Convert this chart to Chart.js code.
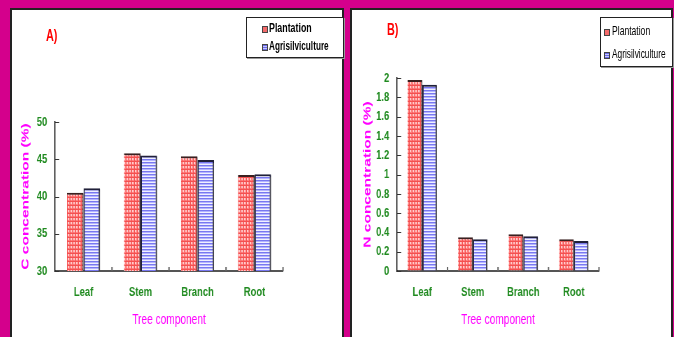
<!DOCTYPE html>
<html><head><meta charset="utf-8">
<script src="https://cdn.jsdelivr.net/npm/chart.js@4.4.0/dist/chart.umd.min.js"></script>
<style>
html,body{margin:0;padding:0;}
body{width:674px;height:337px;background:#d4008c;position:relative;overflow:hidden;font-family:"Liberation Sans",Arial,sans-serif;}
.panel{position:absolute;background:#fff;border:2px solid #222;border-bottom:none;box-sizing:border-box;}
#pA{left:10px;top:8px;width:334px;height:340px;}
#pB{left:350px;top:8px;width:323px;height:340px;}
.cw{position:absolute;transform:scaleX(0.7);transform-origin:0 0;}
#wA{left:11px;top:9px;}
#wB{left:353px;top:9px;}
.lbl{position:absolute;color:#ff0000;font-weight:bold;font-size:16px;transform:scaleX(0.68);transform-origin:0 0;}
.legend{position:absolute;background:#fff;border:1px solid #222;box-shadow:1px 1px 0 #999;box-sizing:border-box;}
.row{position:absolute;white-space:nowrap;color:#000;transform-origin:0 0;}
.sw{position:absolute;width:6px;height:7px;border:1px solid #444;box-sizing:border-box;}
.swR{background:#f46a6a;}
.swB{background:repeating-linear-gradient(#6a6ae8 0 1px,#c8c8ff 1px 2px);}
</style></head>
<body>
<div class="panel" id="pA"></div>
<div class="panel" id="pB"></div>
<div class="cw" id="wA"><canvas id="cA" width="474" height="328"></canvas></div>
<div class="cw" id="wB"><canvas id="cB" width="456" height="328"></canvas></div>
<div class="lbl" style="left:46px;top:27px;">A)</div>
<div class="lbl" style="left:387px;top:21px;">B)</div>
<div class="legend" style="left:246px;top:17px;width:98px;height:41px;">
  <div class="sw swR" style="left:15px;top:8px;"></div>
  <div class="row" style="left:22px;top:2px;font-weight:bold;font-size:13px;transform:scaleX(0.68);">Plantation</div>
  <div class="sw swB" style="left:15px;top:26px;"></div>
  <div class="row" style="left:22px;top:20px;font-weight:bold;font-size:13px;transform:scaleX(0.63);">Agrisilviculture</div>
</div>
<div class="legend" style="left:600px;top:17px;width:73px;height:50px;">
  <div class="sw swR" style="left:3px;top:11px;"></div>
  <div class="row" style="left:11px;top:5px;font-size:13px;transform:scaleX(0.66);">Plantation</div>
  <div class="sw swB" style="left:3px;top:34px;"></div>
  <div class="row" style="left:11px;top:28px;font-size:13px;transform:scaleX(0.64);">Agrisilviculture</div>
</div>
<script>
// ---- data ----
const categories = ["Leaf", "Stem", "Branch", "Root"];
const seriesNames = ["Plantation", "Agrisilviculture"];
const carbonPlantation = [40.5, 45.8, 45.4, 42.9];
const carbonAgrisilviculture = [41.1, 45.5, 44.9, 43.0];
const nitrogenPlantation = [1.98, 0.35, 0.38, 0.33];
const nitrogenAgrisilviculture = [1.93, 0.33, 0.36, 0.31];
const yTicksA = [30, 35, 40, 45, 50];
const yTicksB = [0, 0.2, 0.4, 0.6, 0.8, 1, 1.2, 1.4, 1.6, 1.8, 2];

const FONT = '"Liberation Sans",Arial,sans-serif';
const GREEN = '#1f8a1f';
const MAG = '#ff00ff';
const K = 0.7; // horizontal condensing applied to the canvas wrapper

function makePattern(kind, ctx){
  const c = document.createElement('canvas');
  const g = c.getContext('2d');
  if(kind === 'red'){
    c.width = 4; c.height = 4;
    g.fillStyle = '#ff8080'; g.fillRect(0,0,4,4);
    g.fillStyle = '#ffcccc'; g.fillRect(1,1,2,2);
    g.fillStyle = '#f45050'; g.fillRect(0,0,4,1); g.fillRect(0,0,1,4);
  } else {
    c.width = 4; c.height = 3;
    g.fillStyle = '#b4b4ff'; g.fillRect(0,0,4,3);
    g.fillStyle = '#7878f0'; g.fillRect(0,0,4,1);
    g.fillStyle = '#f0f0ff'; g.fillRect(0,2,4,1);
  }
  return ctx.createPattern(c, 'repeat');
}

const shadowPlugin = {
  id: 'barShadow',
  beforeDatasetDraw(chart){ const c = chart.ctx; c.save(); c.shadowColor='rgba(90,90,90,0.6)'; c.shadowOffsetX=3.5; c.shadowOffsetY=1; c.shadowBlur=0; },
  afterDatasetDraw(chart){ chart.ctx.restore(); }
};
const innerTicks = {
  id: 'innerTicks',
  afterDraw(chart){
    const c = chart.ctx, xs = chart.scales.x, ys = chart.scales.y, a = chart.chartArea;
    c.save(); c.strokeStyle = '#333'; c.lineWidth = 1;
    ys.ticks.forEach(t => { const y = Math.round(ys.getPixelForValue(t.value)) + 0.5; c.beginPath(); c.moveTo(a.left, y); c.lineTo(a.left + 6, y); c.stroke(); });
    c.strokeStyle = '#666'; c.lineWidth = 2;
    const n = xs.ticks.length, w = (a.right - a.left) / n;
    for(let i = 1; i <= n; i++){ const x = a.left + i*w; c.beginPath(); c.moveTo(x, a.bottom); c.lineTo(x, a.bottom - 4); c.stroke(); }
    c.restore();
  }
};

function fmt(v){ return String(Math.round(v * 10) / 10); }

function build(id, p, q, ticksArr, yTitle, min, max, padRight, padTop){
  const canvas = document.getElementById(id);
  const ctx = canvas.getContext('2d');
  new Chart(canvas, {
    type: 'bar',
    data: {
      labels: categories,
      datasets: [
        {label: seriesNames[0], data: p, backgroundColor: makePattern('red', ctx), borderColor: '#3a2020', borderWidth: {top:2, right:1.5, left:0, bottom:0}, borderSkipped: 'bottom'},
        {label: seriesNames[1], data: q, backgroundColor: makePattern('blue', ctx), borderColor: '#20203a', borderWidth: {top:2, right:2, left:2, bottom:0}, borderSkipped: 'bottom'}
      ]
    },
    options: {
      responsive: false, animation: false, devicePixelRatio: 1,
      layout: {padding: {top: padTop, right: padRight, left: 0, bottom: 0}},
      categoryPercentage: 0.58, barPercentage: 1,
      plugins: {legend: {display: false}, tooltip: {enabled: false}},
      scales: {
        x: {
          grid: {display: true, drawOnChartArea: false, drawTicks: false},
          border: {display: true, color: '#555', width: 2},
          ticks: {color: GREEN, font: {family: FONT, size: 13.5, weight: 'bold'}, padding: 13, maxRotation: 0, minRotation: 0, autoSkip: false},
          title: {display: true, text: 'Tree component', color: MAG, font: {family: FONT, size: 14.5}, padding: {top: 0, bottom: 8}},
          afterFit(s){ s.height = 66; }
        },
        y: {
          min: min, max: max,
          afterBuildTicks(s){ s.ticks = ticksArr.map(v => ({value: v})); },
          grid: {display: true, drawOnChartArea: false, drawTicks: false},
          border: {display: true, color: '#000', width: 1.4},
          ticks: {color: GREEN, font: {family: FONT, size: 13.5, weight: 'bold'}, padding: 11, callback: v => fmt(v)},
          title: {display: true, text: yTitle, color: MAG, font: {family: FONT, size: 15.5, weight: 'bold'}, padding: {top: 11, bottom: 0}},
          afterFit(s){ s.width = 44 / K; }
        }
      }
    },
    plugins: [shadowPlugin, innerTicks]
  });
}
// padding right/top in canvas units (horizontal units are divided by K)
build('cA', carbonPlantation, carbonAgrisilviculture, yTicksA, 'C concentration (%)', 30, 50, 474 - 272 / K, 113);
build('cB', nitrogenPlantation, nitrogenAgrisilviculture, yTicksB, 'N concentration (%)', 0, 2, 456 - 246 / K, 69);
</script>
</body></html>
